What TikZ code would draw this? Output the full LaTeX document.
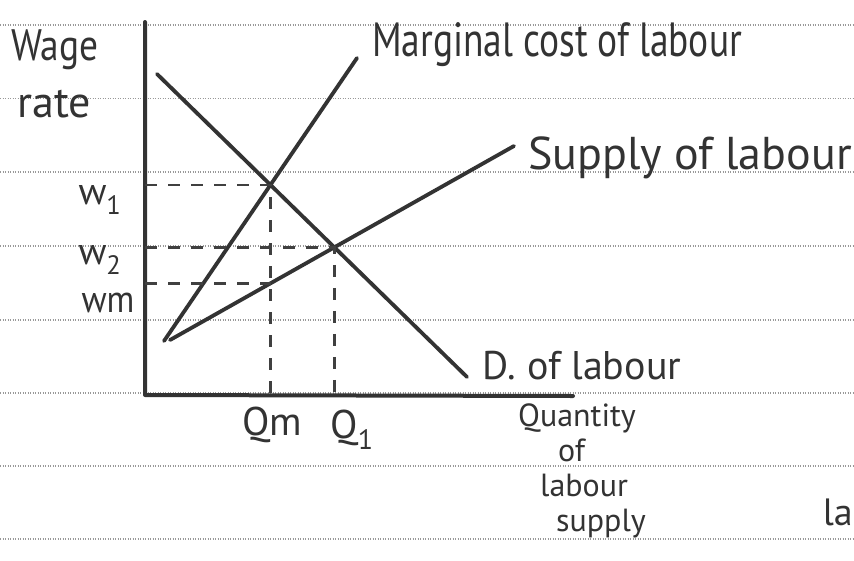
\documentclass[tikz,border=0pt]{standalone}
\usepackage{fontspec}
\setmainfont{PT Sans}
\begin{document}
\begin{tikzpicture}[x=1pt,y=-1pt,
  ink/.style={draw=black!80, line width=4pt, line cap=round, line join=round},
  curve/.style={draw=black!80, line width=3.8pt, line cap=round},
  guide/.style={draw=black!75, line width=2.4pt, dash pattern=on 12pt off 11pt},
  paper/.style={draw=black!40, line width=1.2pt, dash pattern=on 1pt off 1.5pt},
  lbl/.style={text=black!80, inner sep=0pt, font=\fontsize{38}{40}\selectfont},
  big/.style={lbl, font=\fontsize{46}{48}\selectfont}]
\useasboundingbox (0,0) rectangle (854,560);
\fill[white] (0,0) rectangle (854,560);
% ruled paper
\foreach \y in {25,98.5,172,246,320,393,466,539}
  \draw[paper] (0,\y) -- (854,\y);
% axes
\coordinate (Ytop) at (145,22);
\coordinate (O) at (145,395);
\coordinate (Xend) at (573,396);
\draw[ink] (Ytop) -- (O) -- (Xend);
% curves
\coordinate (D1) at (157,74);
\coordinate (D2) at (467,377);
\coordinate (MC1) at (164,341);
\coordinate (MC2) at (357,58);
\coordinate (S1) at (170,340);
\coordinate (S2) at (514,146);
\draw[curve] (D1) -- (D2);
\draw[curve] (MC1) -- (MC2);
\draw[curve] (S1) -- (S2);
% key points
\coordinate (E1) at (intersection of D1--D2 and MC1--MC2);
\coordinate (E2) at (intersection of D1--D2 and S1--S2);
\coordinate (Qm) at (E1|-O);
\coordinate (Q1) at (E2|-O);
\coordinate (Wm) at (intersection of S1--S2 and E1--Qm);
% dashed guides
\draw[guide] (O|-E1) -- (E1) -- (Qm);
\draw[guide] (O|-E2) -- (E2) -- (Q1);
\draw[guide] (O|-Wm) -- (Wm);
% labels
\node[lbl, font=\fontsize{44}{46}\selectfont, xscale=0.85] (wage) at (55,50) {Wage};
\node[lbl, font=\fontsize{44}{46}\selectfont] (rate) at (54,104) {rate};
\node[lbl] (w1) at (100,200) {w\textsubscript{1}};
\node[lbl] (w2) at (100,260) {w\textsubscript{2}};
\node[lbl, xscale=0.9] (wm) at (108,303) {wm};
\node[lbl, font=\fontsize{40}{42}\selectfont] (qm) at (272,425) {Qm};
\node[lbl, font=\fontsize{40}{42}\selectfont] (q1) at (352,430) {Q\textsubscript{1}};
\node[big, font=\fontsize{48}{50}\selectfont, xscale=0.78] (mcl) at (557,45) {Marginal cost of labour};
\node[big] (sl) at (690,158) {Supply of labour};
\node[lbl, font=\fontsize{40}{42}\selectfont] (dl) at (582,366) {D. of labour};
\node[lbl, anchor=north west, align=left,
      font={\fontsize{32}{35}\selectfont}] (qty) at (518,404)
  {Quantity\\\hspace*{40pt}of\\\hspace*{22pt}labour\\\hspace*{38pt}supply};
\node[lbl, anchor=east] (la) at (853,512) {la};
\end{tikzpicture}
\end{document}
